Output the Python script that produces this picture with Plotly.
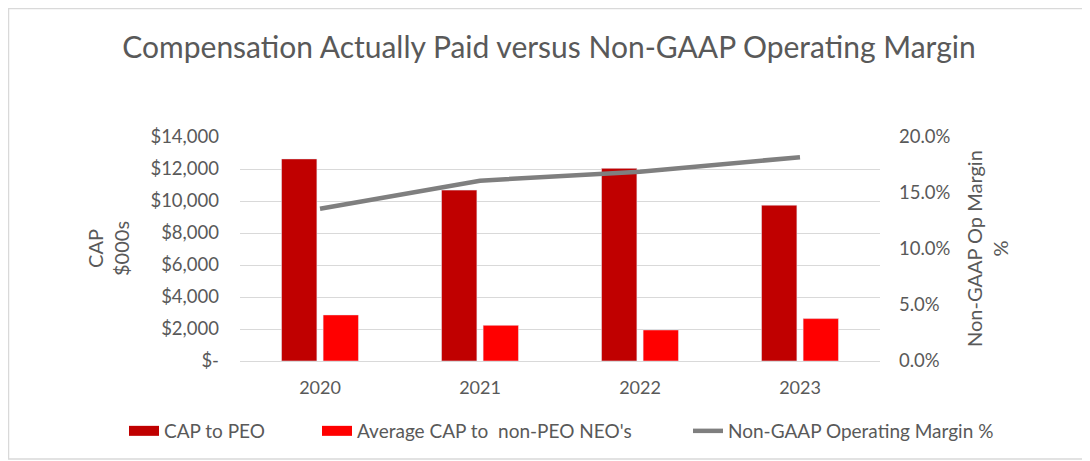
import plotly.graph_objects as go

# values
years = ["2020", "2021", "2022", "2023"]
cap_peo = [12630, 10680, 12040, 9740]          # $000s
cap_non_peo = [2880, 2230, 1940, 2650]         # $000s
op_margin = [0.136, 0.161, 0.169, 0.182]       # non-GAAP op margin

left_tickvals = [0, 2000, 4000, 6000, 8000, 10000, 12000, 14000]
left_ticktext = ["$-", "$2,000", "$4,000", "$6,000", "$8,000", "$10,000", "$12,000", "$14,000"]

FONT = "Lato"
GREY = "#595959"

# page has an 8px body margin, so work in figure px = page px - 8
W, H = 1082, 453
L, R, T, B = 232, 872, 129, 353   # plot area in figure px
PW, PH = R - L, B - T


def px_x(p):
    return (p - L) / PW


def px_y(p):
    return (B - p) / PH


fig = go.Figure()

fig.add_trace(go.Bar(x=years, y=cap_peo, name="CAP to PEO",
                     marker_color="#c00000", showlegend=False))
fig.add_trace(go.Bar(x=years, y=cap_non_peo, name="Average CAP to  non-PEO NEO's",
                     marker_color="#ff0000", showlegend=False))
fig.add_trace(go.Scatter(x=years, y=op_margin, name="Non-GAAP Operating Margin %",
                         mode="lines", line=dict(color="#7f7f7f", width=4.5),
                         yaxis="y2", showlegend=False))

# legend entries drawn as wide swatches like the excel legend
fig.add_trace(go.Scatter(x=[None], y=[None], mode="lines", name="CAP to PEO",
                         line=dict(color="#c00000", width=10), legend="legend"))
fig.add_trace(go.Scatter(x=[None], y=[None], mode="lines", name="Average CAP to  non-PEO NEO's",
                         line=dict(color="#ff0000", width=10), legend="legend2"))
fig.add_trace(go.Scatter(x=[None], y=[None], mode="lines", name="Non-GAAP Operating Margin %",
                         line=dict(color="#7f7f7f", width=4.5), legend="legend3"))

leg_y = 1 - 423 / H


def leg(x):
    return dict(orientation="h", xref="container", yref="container",
                x=x / W, xanchor="left", y=leg_y, yanchor="middle",
                font=dict(size=19, color=GREY), bgcolor="rgba(0,0,0,0)")


fig.update_layout(
    width=W, height=H,
    margin=dict(l=L, r=W - R, t=T, b=H - B, autoexpand=False),
    paper_bgcolor="white", plot_bgcolor="white",
    font=dict(family=FONT, color=GREY, size=18),
    title=dict(text="Compensation Actually Paid versus Non-GAAP Operating Margin",
               x=0.5, xanchor="center", y=1 - 39 / H, yanchor="middle",
               font=dict(family=FONT, size=30, color=GREY)),
    barmode="group", bargap=0.48, bargroupgap=0.15,
    xaxis=dict(showgrid=False, showline=True, linecolor="#d9d9d9", linewidth=1,
               tickfont=dict(size=18), ticks="", ticklabelstandoff=10),
    yaxis=dict(range=[0, 14000], tickvals=left_tickvals, ticktext=left_ticktext,
               showgrid=True, gridcolor="#d9d9d9", gridwidth=1, zeroline=False,
               tickfont=dict(size=18.5), ticklabelstandoff=20),
    yaxis2=dict(range=[0, 0.2], dtick=0.05, tickformat=".1%", overlaying="y",
                side="right", showgrid=False, zeroline=False,
                tickfont=dict(size=18.5), ticklabelstandoff=18),
    legend=leg(116), legend2=leg(309), legend3=leg(680),
    annotations=[
        dict(text="CAP<br>$000s", x=px_x(100), y=0.5, xref="paper", yref="paper",
             xanchor="center", yanchor="middle", textangle=-90, showarrow=False,
             font=dict(size=20, color=GREY)),
        dict(text="Non-GAAP Op Margin<br>%", x=px_x(979), y=0.5, xref="paper",
             yref="paper", xanchor="center", yanchor="middle", textangle=-90,
             showarrow=False, font=dict(size=20, color=GREY)),
    ],
    shapes=[dict(type="rect", xref="paper", yref="paper",
                 x0=px_x(0.5), x1=px_x(1100), y0=px_y(451), y1=px_y(0.5),
                 line=dict(color="#d9d9d9", width=1.5))],
)

fig.write_html("out.html")
